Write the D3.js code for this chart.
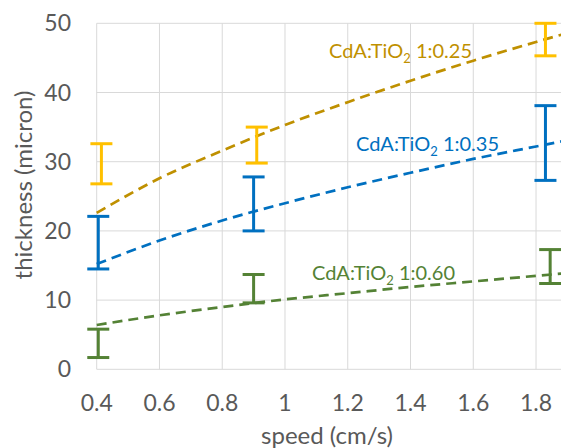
<!DOCTYPE html>
<html>
<head>
<meta charset="utf-8">
<script src="https://cdn.jsdelivr.net/npm/d3@7"></script>
<style>
  html, body { margin: 0; padding: 0; background: #fff; }
  svg { display: block; font-family: Lato, "Open Sans", sans-serif; }
</style>
</head>
<body>
<div id="chart"></div>
<script>
// thickness vs speed, three mixes, error bars + dashed trend lines

const seriesNames = ["1:0.25", "1:0.35", "1:0.60"];
const seriesColors = ["#FFC000", "#0070C0", "#548235"];
const trendColors  = ["#BF9000", "#0070C0", "#548235"];

// error bars: x, low, high
const speed025 = [0.415, 0.91, 1.83];
const low025   = [26.8, 29.8, 45.3];
const high025  = [32.6, 35.0, 50.0];

const speed035 = [0.405, 0.9, 1.83];
const low035   = [14.5, 20.0, 27.3];
const high035  = [22.1, 27.8, 38.1];

const speed060 = [0.405, 0.9, 1.845];
const low060   = [1.7, 9.6, 12.4];
const high060  = [5.8, 13.7, 17.3];

// trend lines at grid positions
const trendX   = [0.4, 0.6, 0.8, 1.0, 1.2, 1.4, 1.6, 1.8, 1.9];
const trend025 = [22.6, 27.6, 31.6, 35.3, 38.6, 41.7, 44.6, 47.3, 48.6];
const trend035 = [15.2, 18.6, 21.5, 24.0, 26.3, 28.4, 30.4, 32.2, 33.1];
const trend060 = [6.4, 7.8, 9.0, 10.1, 11.0, 11.9, 12.7, 13.5, 13.9];

const xTicks = [0.4, 0.6, 0.8, 1, 1.2, 1.4, 1.6, 1.8, 2.0];
const yTicks = [0, 10, 20, 30, 40, 50];

const width = 561, height = 448;
const svg = d3.select("#chart").append("svg")
  .attr("width", width)
  .attr("height", height);

const x = d3.scaleLinear().domain([0.4, 2.0]).range([96.7, 598.8]);
const y = d3.scaleLinear().domain([0, 50]).range([369.3, 23.3]);

// grid
svg.append("g").selectAll("line.v")
  .data(xTicks)
  .join("line")
  .attr("x1", d => x(d)).attr("x2", d => x(d))
  .attr("y1", y(0)).attr("y2", y(50))
  .attr("stroke", "#d9d9d9").attr("stroke-width", 1);

svg.append("g").selectAll("line.h")
  .data(yTicks)
  .join("line")
  .attr("x1", x(0.4)).attr("x2", x(2.0))
  .attr("y1", d => y(d)).attr("y2", d => y(d))
  .attr("stroke", "#d9d9d9").attr("stroke-width", 1);

// tick labels
svg.append("g").selectAll("text")
  .data(yTicks)
  .join("text")
  .attr("x", 71)
  .attr("y", d => y(d))
  .attr("dy", "0.35em")
  .attr("text-anchor", "end")
  .attr("font-size", 23)
  .attr("fill", "#595959")
  .text(d => d);

svg.append("g").selectAll("text")
  .data(xTicks.slice(0, 8))
  .join("text")
  .attr("x", d => x(d))
  .attr("y", 403)
  .attr("dy", "0.35em")
  .attr("text-anchor", "middle")
  .attr("font-size", 23)
  .attr("fill", "#595959")
  .text(d => d3.format("")(d));

svg.append("text")
  .attr("x", 327)
  .attr("y", 444)
  .attr("text-anchor", "middle")
  .attr("font-size", 24)
  .attr("fill", "#595959")
  .text("speed (cm/s)");

svg.append("text")
  .attr("transform", "translate(32,185) rotate(-90)")
  .attr("text-anchor", "middle")
  .attr("font-size", 24)
  .attr("fill", "#595959")
  .text("thickness (micron)");

// trend lines
const trends = [trend025, trend035, trend060];
const line = d3.line()
  .x(d => x(d[0]))
  .y(d => y(d[1]))
  .curve(d3.curveMonotoneX);

trends.forEach((t, i) => {
  svg.append("path")
    .datum(trendX.map((v, j) => [v, t[j]]))
    .attr("d", line)
    .attr("fill", "none")
    .attr("stroke", trendColors[i])
    .attr("stroke-width", 2.7)
    .attr("stroke-dasharray", "10,6");
});

// error bars
const bars = [
  { sx: speed025, lo: low025, hi: high025 },
  { sx: speed035, lo: low035, hi: high035 },
  { sx: speed060, lo: low060, hi: high060 }
];

const capW = 11;
bars.forEach((b, i) => {
  const rows = b.sx.map((v, j) => ({ x: v, lo: b.lo[j], hi: b.hi[j] }));
  const g = svg.append("g")
    .attr("stroke", seriesColors[i])
    .attr("stroke-width", 3);

  g.selectAll("line.stem").data(rows).join("line")
    .attr("x1", d => x(d.x)).attr("x2", d => x(d.x))
    .attr("y1", d => y(d.lo)).attr("y2", d => y(d.hi));
  g.selectAll("line.top").data(rows).join("line")
    .attr("x1", d => x(d.x) - capW).attr("x2", d => x(d.x) + capW)
    .attr("y1", d => y(d.hi)).attr("y2", d => y(d.hi));
  g.selectAll("line.bot").data(rows).join("line")
    .attr("x1", d => x(d.x) - capW).attr("x2", d => x(d.x) + capW)
    .attr("y1", d => y(d.lo)).attr("y2", d => y(d.lo));
});

// labels
const labelPos = [
  { x: 329, y: 58 },
  { x: 356, y: 151 },
  { x: 312, y: 280 }
];

seriesNames.forEach((name, i) => {
  const t = svg.append("text")
    .attr("x", labelPos[i].x)
    .attr("y", labelPos[i].y)
    .attr("font-size", 20)
    .attr("fill", trendColors[i]);
  t.append("tspan").text("CdA:TiO");
  t.append("tspan").attr("font-size", 13).attr("dy", 5).text("2");
  t.append("tspan").attr("dy", -5).text(" " + name);
});
</script>
</body>
</html>
